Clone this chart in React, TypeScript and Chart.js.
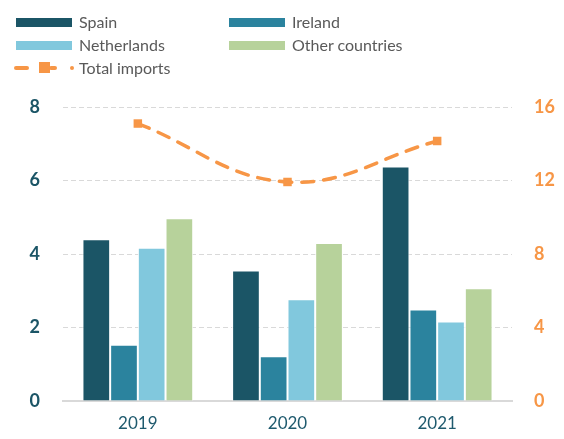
import React, { useEffect, useRef } from "react";
import { Chart, registerables } from "chart.js";

Chart.register(...registerables);

const categories = ["2019", "2020", "2021"];
const spain = [4.4, 3.55, 6.38];
const ireland = [1.53, 1.22, 2.49];
const netherlands = [4.17, 2.77, 2.16];
const otherCountries = [4.97, 4.3, 3.07];
const totalImports = [15.1, 11.92, 14.15];
const leftTicks = [0, 2, 4, 6, 8];
const rightTicks = [0, 4, 8, 12, 16];

const C_SPAIN = "#1b5566";
const C_IRELAND = "#2b839e";
const C_NETH = "#81c8dd";
const C_OTHER = "#b7d29b";
const C_ORANGE = "#f79646";
const FONT = "Lato, 'Open Sans', sans-serif";

export default function App() {
  const ref = useRef<HTMLCanvasElement | null>(null);
  useEffect(() => {
    if (!ref.current) return;
    const barDs = (label: string, data: number[], color: string) => ({
      type: "bar" as const,
      label,
      data,
      backgroundColor: color,
      borderColor: "#ffffff",
      borderWidth: 1,
      yAxisID: "y",
      categoryPercentage: 0.74,
      barPercentage: 1,
      order: 2,
    });
    const chart = new Chart(ref.current, {
      type: "bar",
      data: {
        labels: categories,
        datasets: [
          barDs("Spain", spain, C_SPAIN),
          barDs("Ireland", ireland, C_IRELAND),
          barDs("Netherlands", netherlands, C_NETH),
          barDs("Other countries", otherCountries, C_OTHER),
          {
            type: "line" as const,
            label: "Total imports",
            data: totalImports,
            borderColor: C_ORANGE,
            backgroundColor: C_ORANGE,
            borderWidth: 3.5,
            borderDash: [12, 10],
            borderCapStyle: "round",
            tension: 0.4,
            pointStyle: "rect",
            pointRadius: 6,
            pointHoverRadius: 6,
            pointBorderWidth: 0,
            yAxisID: "y1",
            order: 1,
          } as any,
        ],
      },
      options: {
        animation: false,
        responsive: false,
        layout: { padding: { top: 107, left: 0, right: 0, bottom: 0 } },
        plugins: { legend: { display: false }, tooltip: { enabled: false } },
        scales: {
          x: {
            grid: { display: false, drawTicks: false },
            border: { display: true, color: "#d9d9d9", width: 2 },
            ticks: {
              color: "#1f5a6e",
              font: { family: FONT, size: 17 },
              padding: 12,
            },
            afterFit: (s: any) => {
              s.height = 38;
            },
          },
          y: {
            position: "left",
            min: 0,
            max: 8,
            afterBuildTicks: (s: any) => {
              s.ticks = leftTicks.map((v) => ({ value: v }));
            },
            grid: { color: "#d9d9d9", lineWidth: 1, drawTicks: false },
            border: { display: false, dash: [5, 3] },
            ticks: {
              color: C_SPAIN,
              font: { family: FONT, size: 18, weight: "bold" },
              padding: 23,
            },
            afterFit: (s: any) => {
              s.width = 63;
            },
          },
          y1: {
            position: "right",
            min: 0,
            max: 16,
            afterBuildTicks: (s: any) => {
              s.ticks = rightTicks.map((v) => ({ value: v }));
            },
            grid: { display: false, drawTicks: false },
            border: { display: false },
            ticks: {
              color: C_ORANGE,
              font: { family: FONT, size: 18, weight: "bold" },
              padding: 22,
            },
            afterFit: (s: any) => {
              s.width = 52;
            },
          },
        },
      },
    });
    return () => chart.destroy();
  }, []);

  const legendText: React.CSSProperties = {
    position: "absolute",
    fontFamily: FONT,
    fontSize: 16,
    color: "#595959",
    lineHeight: "20px",
    whiteSpace: "nowrap",
  };
  const box = (x: number, y: number, color: string) => (
    <div style={{ position: "absolute", left: x, top: y, width: 56, height: 9, background: color }} />
  );
  return (
    <div style={{ position: "absolute", left: 0, top: 0, width: 564, height: 439, background: "#fff" }}>
      <canvas ref={ref} width={564} height={439} style={{ position: "absolute", left: 0, top: 0, display: "block" }} />
      {box(16, 18, C_SPAIN)}
      <div style={{ ...legendText, left: 79, top: 12 }}>Spain</div>
      {box(229, 18, C_IRELAND)}
      <div style={{ ...legendText, left: 292, top: 12 }}>Ireland</div>
      {box(16, 41, C_NETH)}
      <div style={{ ...legendText, left: 79, top: 35 }}>Netherlands</div>
      {box(229, 41, C_OTHER)}
      <div style={{ ...legendText, left: 292, top: 35 }}>Other countries</div>
      <div style={{ position: "absolute", left: 14, top: 66, width: 15, height: 4, borderRadius: 2, background: C_ORANGE }} />
      <div style={{ position: "absolute", left: 39, top: 62, width: 11, height: 11, background: C_ORANGE }} />
      <div style={{ position: "absolute", left: 49, top: 66, width: 8, height: 4, borderRadius: 2, background: C_ORANGE }} />
      <div style={{ position: "absolute", left: 70, top: 66, width: 4, height: 4, borderRadius: 2, background: C_ORANGE }} />
      <div style={{ ...legendText, left: 79, top: 58 }}>Total imports</div>
    </div>
  );
}
